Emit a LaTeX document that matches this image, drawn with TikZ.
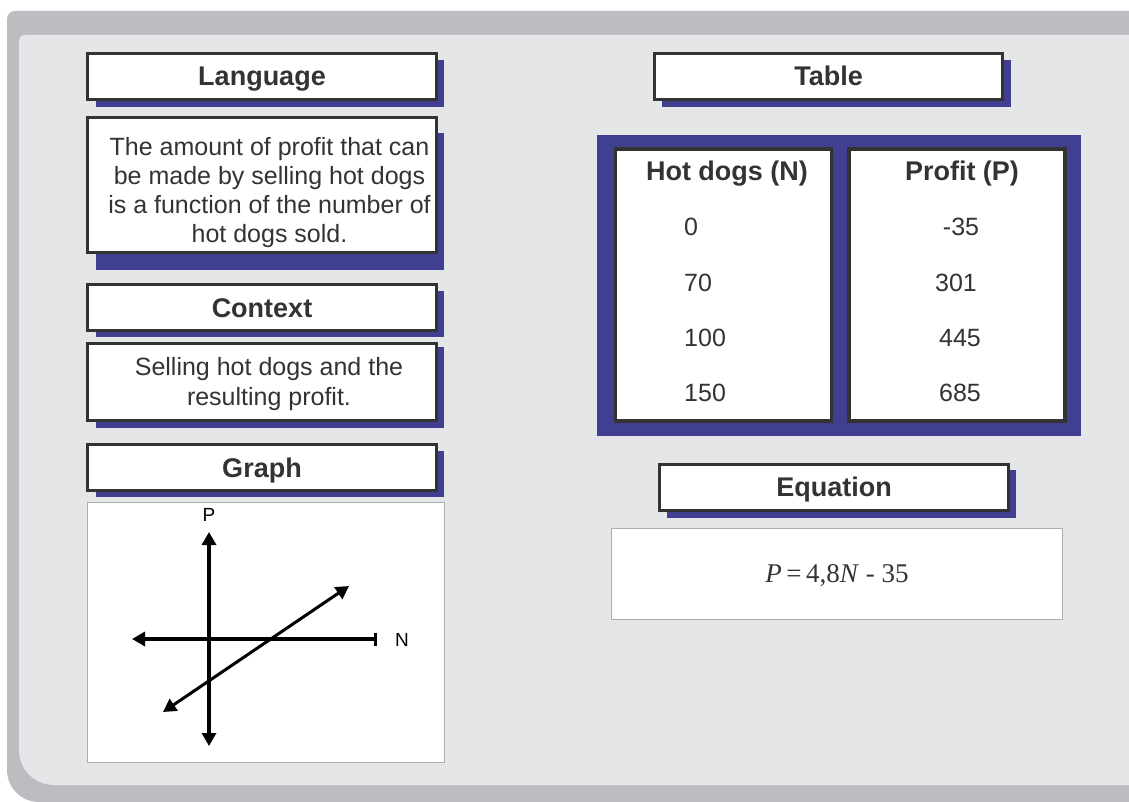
\documentclass[tikz,border=0pt]{standalone}
\usepackage{fontspec}
\setmainfont{Liberation Sans}
\newfontfamily\eqfont{Liberation Serif}
\usetikzlibrary{arrows.meta}
\definecolor{outergray}{HTML}{BCBDC0}
\definecolor{innergray}{HTML}{E5E6E8}
\definecolor{navy}{HTML}{413F8F}
\definecolor{ink}{HTML}{333333}
\definecolor{thingray}{HTML}{AEAEAE}
\begin{document}
\begin{tikzpicture}[x=1pt,y=-1pt,
  shadowbox/.style={fill=navy},
  headbox/.style={draw=ink, line width=3pt, fill=white, inner sep=0pt, text=ink,
    font=\fontsize{27}{30}\selectfont\bfseries, text height=19pt, text depth=0pt,
    minimum width=349pt, minimum height=46pt},
  bodybox/.style={draw=ink, line width=3pt, fill=white, inner sep=0pt},
  bodytext/.style={text=ink, font=\fontsize{25}{29}\selectfont, align=center, inner sep=0pt},
  colbox/.style={draw=ink, line width=3.5pt, fill=white, inner sep=0pt,
    minimum width=216pt, minimum height=272pt},
  colhead/.style={text=ink, font=\fontsize{27}{30}\selectfont\bfseries, anchor=base, inner sep=0pt},
  cell/.style={text=ink, font=\fontsize{25}{30}\selectfont, anchor=base, inner sep=0pt},
  plainbox/.style={draw=thingray, line width=0.8pt, fill=white, inner sep=0pt},
  axis/.style={line width=3.3pt, black},
  axlabel/.style={font=\fontsize{19}{22}\selectfont, text=black, inner sep=0pt}
]
\useasboundingbox (0,0) rectangle (1129,802);
\clip (0,0) rectangle (1129,802);
\fill[white] (0,0) rectangle (1129,802);
% backgrounds
\fill[outergray, rounded corners=8pt] (1160,11) -- (7,11) [rounded corners=32pt] -- (7,802) [sharp corners] -- (1160,802) -- cycle;
\fill[innergray, rounded corners=6pt] (1160,35) -- (19,35) [rounded corners=35pt] -- (19,785) [sharp corners] -- (1160,785) -- cycle;

% ---------- left column ----------
\fill[shadowbox] (96,60) rectangle (444,107);
\node[headbox] (langhead) at (262,76.5) {Language};

\fill[shadowbox] (96,133) rectangle (444,270);
\node[bodybox, minimum width=349pt, minimum height=135pt] (langbox) at (262,185) {};
\node[bodytext] (langtext) at (269.5,193) {The amount of profit that can\\be made by selling hot dogs\\is a function of the number of\\hot dogs sold.};

\fill[shadowbox] (96,291) rectangle (444,337);
\node[headbox] (conthead) at (262,307.5) {Context};

\fill[shadowbox] (96,347) rectangle (444,428);
\node[bodybox, minimum width=349pt, minimum height=77pt] (contbox) at (262,382) {};
\node[bodytext, font=\fontsize{25}{30}\selectfont] (conttext) at (269,384.5) {Selling hot dogs and the\\resulting profit.};

\fill[shadowbox] (96,451) rectangle (444,497);
\node[headbox] (graphhead) at (262,467.5) {Graph};

\node[plainbox, minimum width=357pt, minimum height=260pt] (graphbox) at (265.5,632) {};
\coordinate (ptop) at (209,532);
\coordinate (pbot) at (209,746);
\coordinate (nleft) at (132,639);
\coordinate (nright) at (377,639);
\coordinate (dlow) at (163,712);
\coordinate (dhigh) at (349,586);
\draw[axis, {Triangle[length=13pt,width=14pt]}-{Triangle[length=13pt,width=14pt]}] (pbot) -- (ptop);
\draw[axis, {Triangle[length=13pt,width=14pt]}-{Bar[width=13pt]}] (nleft) -- (nright);
\draw[axis, line width=3pt, {Triangle[length=13pt,width=14pt]}-{Triangle[length=13pt,width=14pt]}] (dlow) -- (dhigh);
\node[axlabel] (plabel) at (209,515) {P};
\node[axlabel] (nlabel) at (402,640) {N};

% ---------- right column ----------
\fill[shadowbox] (662,60) rectangle (1011,107);
\node[headbox, minimum width=348pt] (tablehead) at (828.5,76.5) {Table};

\fill[navy] (597,135) rectangle (1081,436);
\node[colbox] (ncol) at (723.5,285) {};
\node[colbox] (pcol) at (957,285) {};
\node[colhead] (nhead) at (727,181) {Hot dogs (N)};
\node[colhead] (phead) at (962,181) {Profit (P)};
\node[cell, anchor=base west] (n1) at (684,236) {0};
\node[cell, anchor=base west] (n2) at (684,291) {70};
\node[cell, anchor=base west] (n3) at (684,346) {100};
\node[cell, anchor=base west] (n4) at (684,401) {150};
\node[cell] (p1) at (961,236) {-35};
\node[cell] (p2) at (956,291) {301};
\node[cell] (p3) at (960,346) {445};
\node[cell] (p4) at (960,401) {685};

\fill[shadowbox] (667,470) rectangle (1016,518);
\node[headbox] (eqhead) at (834,487) {Equation};

\node[plainbox, minimum width=451pt, minimum height=91pt, text=ink,
  font=\fontsize{27}{30}\selectfont\eqfont, text height=18pt, text depth=0pt] (eqbox) at (836.5,573.5)
  {\hspace*{1pt}\textit{P}\,=\,4,8\textit{N} - 35};
\end{tikzpicture}
\end{document}
